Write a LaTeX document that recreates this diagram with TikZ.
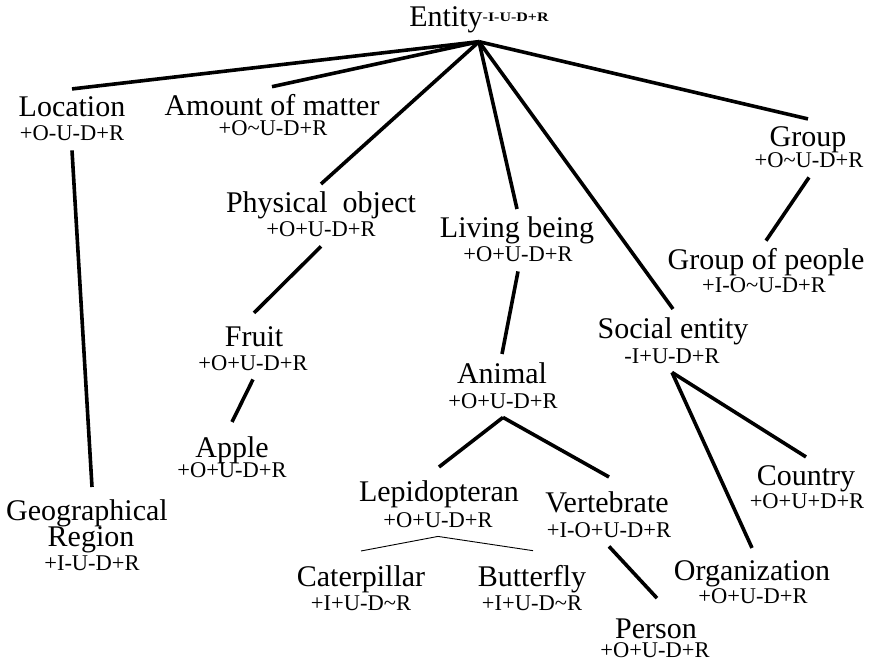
\documentclass[tikz,border=0pt]{standalone}
\usepackage{fontspec}
\setmainfont{Liberation Serif}
\usepackage{graphicx}
\newcommand{\tld}{\textasciitilde}

\begin{document}
\begin{tikzpicture}[x=1pt,y=-1pt,
    concept/.style={inner xsep=0pt, inner ysep=8pt, anchor=base, font=\fontsize{30}{26}\selectfont},
    flag/.style={inner xsep=0pt, inner ysep=9pt, anchor=base, font=\fontsize{22.5}{24}\selectfont},
    branch/.style={line width=3.6pt},
    twig/.style={line width=0.9pt}]
    \useasboundingbox (0,0) rectangle (870,660);

    % Root
    \node[concept] (entity) at (479,27) {Entity\raisebox{5pt}{\scalebox{1.23}[1]{\fontsize{13}{13}\selectfont\bfseries -I-U-D+R}}};

    % First level
    \node[concept] (location) at (72,117) {Location};
    \node[flag] (location-t) at (72,141) {+O-U-D+R};
    \node[concept] (matter) at (272,116) {Amount of matter};
    \node[flag] (matter-t) at (273,136) {+O\tld U-D+R};
    \node[concept] (physical) at (321,213) {Physical\ \ object};
    \node[flag] (physical-t) at (321,237) {+O+U-D+R};
    \node[concept] (living) at (517,238) {Living being};
    \node[flag] (living-t) at (518,262) {+O+U-D+R};
    \node[concept] (social) at (673,338) {Social entity};
    \node[flag] (social-t) at (672,363) {-I+U-D+R};
    \node[concept] (group) at (808,147) {Group};
    \node[flag] (group-t) at (809,168) {+O\tld U-D+R};

    % Lower levels
    \node[concept] (region) at (87,520) {Geographical};
    \node[concept] (region-b) at (91,546) {Region};
    \node[flag] (region-t) at (92,570) {+I-U-D+R};
    \node[concept] (fruit) at (254,346) {Fruit};
    \node[flag] (fruit-t) at (253,370) {+O+U-D+R};
    \node[concept] (apple) at (232,457) {Apple};
    \node[flag] (apple-t) at (232,477) {+O+U-D+R};
    \node[concept] (animal) at (502,383) {Animal};
    \node[flag] (animal-t) at (503,408) {+O+U-D+R};
    \node[concept] (lepido) at (439,501) {Lepidopteran};
    \node[flag] (lepido-t) at (438,527) {+O+U-D+R};
    \node[concept] (vertebrate) at (607,512) {Vertebrate};
    \node[flag] (vertebrate-t) at (609,537) {+I-O+U-D+R};
    \node[concept] (caterpillar) at (361,586) {Caterpillar};
    \node[flag] (caterpillar-t) at (361,610) {+I+U-D\tld R};
    \node[concept] (butterfly) at (532,586) {Butterfly};
    \node[flag] (butterfly-t) at (532,610) {+I+U-D\tld R};
    \node[concept] (person) at (656,638) {Person};
    \node[flag] (person-t) at (655,657) {+O+U-D+R};
    \node[concept] (people) at (766,270) {Group of people};
    \node[flag] (people-t) at (764,293) {+I-O\tld U-D+R};
    \node[concept] (country) at (806,485) {Country};
    \node[flag] (country-t) at (807,508) {+O+U+D+R};
    \node[concept] (organization) at (752,580) {Organization};
    \node[flag] (organization-t) at (753,603) {+O+U-D+R};

    % Branches from the root
    \foreach \kid in {location,matter,physical,living,social,group}
        \draw[branch] (entity.south) -- (\kid.north);

    % Branches below
    \draw[branch] (location-t.south) -- ([xshift=5pt,yshift=4pt]region.north);
    \draw[branch] (physical-t.south) -- ([yshift=5pt]fruit.north);
    \draw[branch] (fruit-t.south) -- ([yshift=6pt]apple.north);
    \draw[branch] (living-t.south) -- (animal.north);
    \draw[branch] (animal-t.south) -- ([yshift=5pt]lepido.north);
    \draw[branch] (animal-t.south) -- ([xshift=2pt,yshift=6pt]vertebrate.north);
    \draw[branch] (vertebrate-t.south) -- ([xshift=1pt,yshift=12pt]person.north);
    \draw[branch] (group-t.south) -- (people.north);
    \draw[branch] (social-t.south) -- (country.north);
    \draw[branch] (social-t.south) -- ([yshift=4pt]organization.north);
    \draw[twig] (lepido-t.south) -- ([yshift=6pt]caterpillar.north);
    \draw[twig] (lepido-t.south) -- ([xshift=1pt,yshift=6pt]butterfly.north);

\end{tikzpicture}
\end{document}
